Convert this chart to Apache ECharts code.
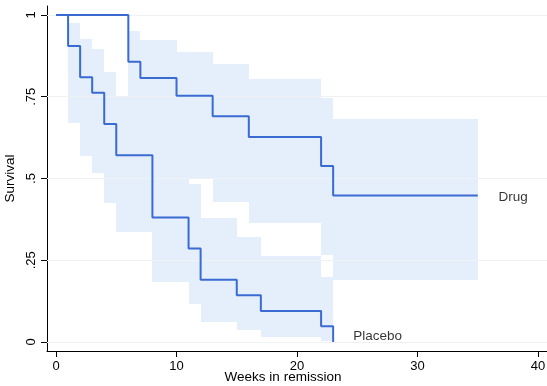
<!DOCTYPE html>
<html>
<head>
<meta charset="utf-8">
<script src="https://cdn.jsdelivr.net/npm/echarts@6/dist/echarts.min.js"></script>
<style>
  html, body { margin: 0; padding: 0; background: #fff; }
  #main { width: 547px; height: 386px; }
</style>
</head>
<body>
<div id="main"></div>
<script>
// Kaplan-Meier estimates
var drugTime = [0, 6, 7, 10, 13, 16, 22, 23, 35];
var drugSurv = [1, 0.857, 0.807, 0.753, 0.690, 0.627, 0.538, 0.448, 0.448];
var placeboTime = [0, 1, 2, 3, 4, 5, 8, 11, 12, 15, 17, 22, 23];
var placeboSurv = [1, 0.905, 0.810, 0.762, 0.667, 0.571, 0.381, 0.286, 0.190, 0.143, 0.095, 0.048, 0];

// confidence bands: interval edges, upper and lower limits
var drugBandTime = [6, 7, 10, 13, 16, 22, 23, 35];
var drugUpper = [0.952, 0.924, 0.888, 0.850, 0.803, 0.745, 0.682];
var drugLower = [0.620, 0.563, 0.498, 0.429, 0.363, 0.266, 0.190];
var placeboBandTime = [1, 2, 3, 4, 5, 8, 11, 12, 15, 17, 22, 23];
var placeboUpper = [0.975, 0.926, 0.895, 0.827, 0.748, 0.577, 0.483, 0.379, 0.320, 0.263, 0.200];
var placeboLower = [0.670, 0.569, 0.518, 0.424, 0.337, 0.183, 0.115, 0.060, 0.037, 0.016, 0.003];

var xTicks = [0, 10, 20, 30, 40];
var yTicks = [0, 0.25, 0.5, 0.75, 1];
var groupLabels = [[36.3, 0.443, 'Drug'], [24.25, 0.018, 'Placebo']];

var lineColor = '#3a6bd3';
var bandColor = '#e5eefb';
var font = 'Liberation Sans, Arial, Helvetica, sans-serif';

function steps(t, s) {
    var out = [];
    for (var i = 0; i < t.length; i++) out.push([t[i], s[i]]);
    return out;
}
function bands(t, lo, hi) {
    var out = [];
    for (var i = 0; i < lo.length; i++) out.push([t[i], t[i + 1], lo[i], hi[i]]);
    return out;
}
function renderBand(params, api) {
    var a = api.coord([api.value(0), api.value(3)]);
    var b = api.coord([api.value(1), api.value(2)]);
    var x0 = Math.round(a[0]), y0 = Math.round(a[1]);
    var x1 = Math.round(b[0]), y1 = Math.round(b[1]);
    return {
        type: 'rect',
        shape: { x: x0, y: y0, width: x1 - x0, height: y1 - y0 },
        style: { fill: bandColor, stroke: null }
    };
}

var myChart = echarts.init(document.getElementById('main'));
var option = {
    animation: false,
    grid: { left: 47, right: 0, top: 6, bottom: 35, containLabel: false, outerBoundsMode: 'none' },
    xAxis: {
        type: 'value',
        min: -0.75,
        max: 40.75,
        name: 'Weeks in remission',
        nameLocation: 'middle',
        nameGap: 19,
        nameMoveOverlap: false,
        nameTextStyle: { color: '#000', fontSize: 13.5, fontFamily: font, padding: [0, 28, 0, 0] },
        axisLine: { show: true, onZero: false, lineStyle: { color: '#000', width: 1 } },
        axisTick: { show: true, length: 6, customValues: xTicks, lineStyle: { color: '#000' } },
        axisLabel: { customValues: xTicks, margin: 9, color: '#000', fontSize: 13, fontFamily: font },
        splitLine: { show: false }
    },
    yAxis: {
        type: 'value',
        min: -0.0275,
        max: 1.0275,
        name: 'Survival',
        nameLocation: 'middle',
        nameGap: 30,
        nameMoveOverlap: false,
        nameTextStyle: { color: '#000', fontSize: 13.5, fontFamily: font },
        axisLine: { show: true, onZero: false, lineStyle: { color: '#000', width: 1 } },
        axisTick: { show: true, length: 6, customValues: yTicks, lineStyle: { color: '#000' } },
        axisLabel: {
            customValues: yTicks,
            rotate: 90,
            margin: 9,
            color: '#000',
            fontSize: 13,
            fontFamily: font,
            formatter: function (v) { return String(v).replace(/^0\./, '.'); }
        },
        splitLine: { show: false }
    },
    series: [
        {
            name: 'Drug CI',
            type: 'custom',
            z: 1,
            renderItem: renderBand,
            encode: { x: [0, 1], y: [2, 3] },
            data: bands(drugBandTime, drugLower, drugUpper),
            silent: true
        },
        {
            name: 'Placebo CI',
            type: 'custom',
            z: 1,
            renderItem: renderBand,
            encode: { x: [0, 1], y: [2, 3] },
            data: bands(placeboBandTime, placeboLower, placeboUpper),
            silent: true,
            markLine: {
                silent: true,
                symbol: 'none',
                label: { show: false },
                lineStyle: { color: '#eff2f5', width: 1, type: 'solid' },
                data: yTicks.map(function (v) { return { yAxis: v }; })
            }
        },
        {
            name: 'Drug',
            type: 'line',
            z: 5,
            step: 'end',
            showSymbol: false,
            lineStyle: { color: lineColor, width: 2 },
            data: steps(drugTime, drugSurv)
        },
        {
            name: 'Placebo',
            type: 'line',
            z: 5,
            step: 'end',
            showSymbol: false,
            lineStyle: { color: lineColor, width: 2 },
            data: steps(placeboTime, placeboSurv)
        },
        {
            name: 'labels',
            type: 'scatter',
            z: 6,
            symbolSize: 0,
            silent: true,
            label: {
                show: true,
                position: 'right',
                distance: 5,
                color: '#000',
                fontSize: 13.5,
                fontFamily: font,
                formatter: function (p) { return p.value[2]; }
            },
            data: groupLabels
        }
    ]
};
myChart.setOption(option);
</script>
</body>
</html>
